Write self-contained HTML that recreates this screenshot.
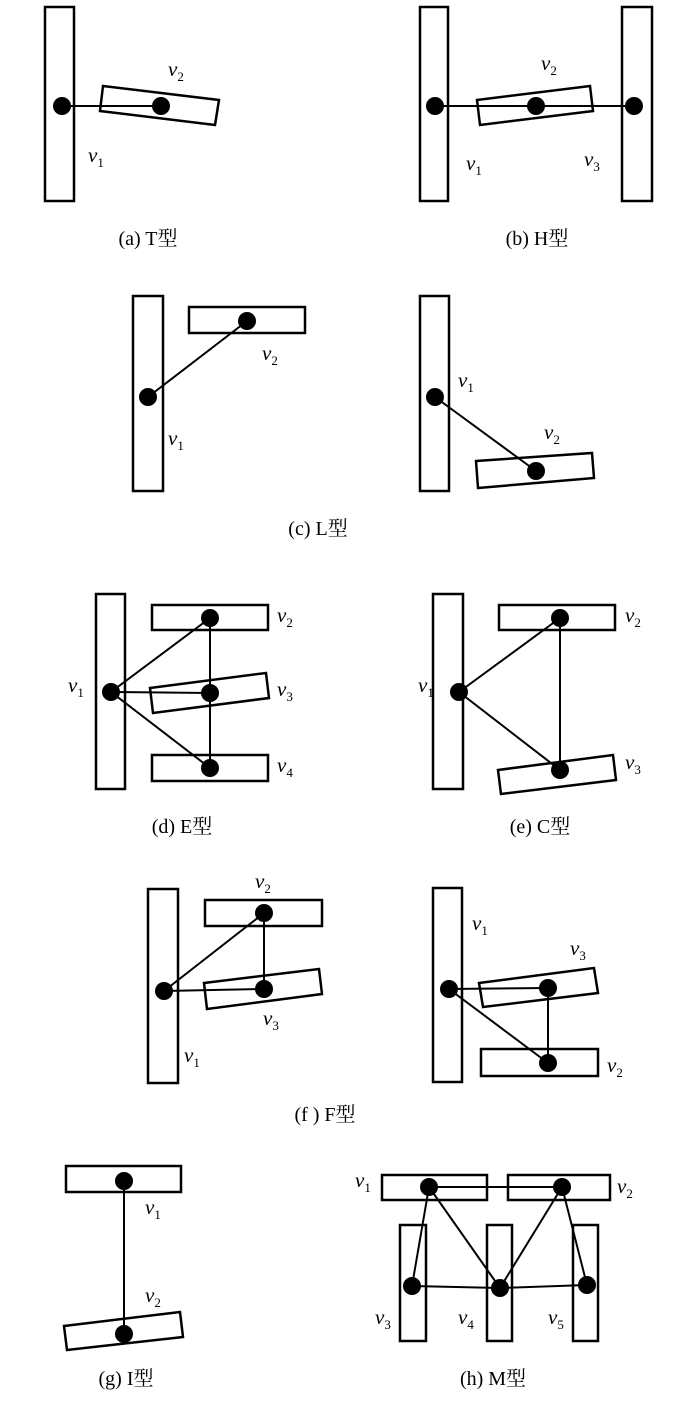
<!DOCTYPE html>
<html><head><meta charset="utf-8"><style>
html,body{margin:0;padding:0;background:#fff;}
svg{display:block;}
text{font-family:"Liberation Serif","Noto Serif CJK SC",serif;fill:#000;}
.v{font-style:italic;font-size:21px;}
.s{font-style:normal;font-size:13px;}
.c{font-size:20px;text-anchor:middle;}
</style></head><body>
<svg width="700" height="1404" viewBox="0 0 700 1404" xmlns="http://www.w3.org/2000/svg">
<defs>
<g id="d"><circle r="9" fill="#000"/></g>
</defs>
<g fill="none" stroke="#000" stroke-width="2.5">
<rect x="45" y="7" width="29" height="194"/>
<polygon points="103,86 219,100 215,125 100,111"/>
<rect x="420" y="7" width="28" height="194"/>
<rect x="622" y="7" width="30" height="194"/>
<polygon points="477,100 590,86 593,111 480,125"/>
<rect x="133" y="296" width="30" height="195"/>
<rect x="189" y="307" width="116" height="26"/>
<rect x="420" y="296" width="29" height="195"/>
<polygon points="476,461 592,453 594,478 478,488"/>
<rect x="96" y="594" width="29" height="195"/>
<rect x="152" y="605" width="116" height="25"/>
<polygon points="150,688 266,673 269,698 153,713"/>
<rect x="152" y="755" width="116" height="26"/>
<rect x="433" y="594" width="30" height="195"/>
<rect x="499" y="605" width="116" height="25"/>
<polygon points="498,770 613,755 616,780 501,794"/>
<!-- f -->
<rect x="148" y="889" width="30" height="194"/>
<rect x="205" y="900" width="117" height="26"/>
<polygon points="204,983 319,969 322,994 207,1009"/>
<rect x="433" y="888" width="29" height="194"/>
<polygon points="479,983 594,968 598,993 483,1007"/>
<rect x="481" y="1049" width="117" height="27"/>
<rect x="66" y="1166" width="115" height="26"/>
<polygon points="64,1326 180,1312 183,1337 67,1350"/>
<rect x="382" y="1175" width="105" height="25"/>
<rect x="508" y="1175" width="102" height="25"/>
<rect x="400" y="1225" width="26" height="116"/>
<rect x="487" y="1225" width="25" height="116"/>
<rect x="573" y="1225" width="25" height="116"/>
</g>
<g stroke="#000" stroke-width="2" fill="none">
<line x1="62" y1="106" x2="161" y2="106"/>
<line x1="435" y1="106" x2="634" y2="106"/>
<line x1="148" y1="397" x2="247" y2="321"/>
<line x1="435" y1="397" x2="536" y2="471"/>
<line x1="111" y1="692" x2="210" y2="618"/>
<line x1="111" y1="692" x2="210" y2="693"/>
<line x1="111" y1="692" x2="210" y2="768"/>
<line x1="210" y1="618" x2="210" y2="768"/>
<line x1="459" y1="692" x2="560" y2="618"/>
<line x1="459" y1="692" x2="560" y2="770"/>
<line x1="560" y1="618" x2="560" y2="770"/>
<line x1="164" y1="991" x2="264" y2="913"/>
<line x1="164" y1="991" x2="264" y2="989"/>
<line x1="264" y1="913" x2="264" y2="989"/>
<line x1="449" y1="989" x2="548" y2="988"/>
<line x1="449" y1="989" x2="548" y2="1063"/>
<line x1="548" y1="988" x2="548" y2="1063"/>
<line x1="124" y1="1181" x2="124" y2="1334"/>
<line x1="429" y1="1187" x2="562" y2="1187"/>
<line x1="429" y1="1187" x2="412" y2="1286"/>
<line x1="429" y1="1187" x2="500" y2="1288"/>
<line x1="562" y1="1187" x2="500" y2="1288"/>
<line x1="562" y1="1187" x2="587" y2="1285"/>
<line x1="412" y1="1286" x2="500" y2="1288"/>
<line x1="500" y1="1288" x2="587" y2="1285"/>
</g>
<g>
<use href="#d" x="62" y="106"/><use href="#d" x="161" y="106"/>
<use href="#d" x="435" y="106"/><use href="#d" x="536" y="106"/><use href="#d" x="634" y="106"/>
<use href="#d" x="148" y="397"/><use href="#d" x="247" y="321"/>
<use href="#d" x="435" y="397"/><use href="#d" x="536" y="471"/>
<use href="#d" x="111" y="692"/><use href="#d" x="210" y="618"/><use href="#d" x="210" y="693"/><use href="#d" x="210" y="768"/>
<use href="#d" x="459" y="692"/><use href="#d" x="560" y="618"/><use href="#d" x="560" y="770"/>
<use href="#d" x="164" y="991"/><use href="#d" x="264" y="913"/><use href="#d" x="264" y="989"/>
<use href="#d" x="449" y="989"/><use href="#d" x="548" y="988"/><use href="#d" x="548" y="1063"/>
<use href="#d" x="124" y="1181"/><use href="#d" x="124" y="1334"/>
<use href="#d" x="429" y="1187"/><use href="#d" x="562" y="1187"/><use href="#d" x="412" y="1286"/><use href="#d" x="500" y="1288"/><use href="#d" x="587" y="1285"/>
</g>
<g>
<text class="v" x="168" y="76">v<tspan class="s" dy="5">2</tspan></text>
<text class="v" x="88" y="162">v<tspan class="s" dy="5">1</tspan></text>
<text class="v" x="541" y="70">v<tspan class="s" dy="5">2</tspan></text>
<text class="v" x="466" y="170">v<tspan class="s" dy="5">1</tspan></text>
<text class="v" x="584" y="166">v<tspan class="s" dy="5">3</tspan></text>
<text class="v" x="262" y="360">v<tspan class="s" dy="5">2</tspan></text>
<text class="v" x="168" y="445">v<tspan class="s" dy="5">1</tspan></text>
<text class="v" x="458" y="387">v<tspan class="s" dy="5">1</tspan></text>
<text class="v" x="544" y="439">v<tspan class="s" dy="5">2</tspan></text>
<text class="v" x="277" y="622">v<tspan class="s" dy="5">2</tspan></text>
<text class="v" x="277" y="696">v<tspan class="s" dy="5">3</tspan></text>
<text class="v" x="277" y="772">v<tspan class="s" dy="5">4</tspan></text>
<text class="v" x="68" y="692">v<tspan class="s" dy="5">1</tspan></text>
<text class="v" x="625" y="622">v<tspan class="s" dy="5">2</tspan></text>
<text class="v" x="625" y="769">v<tspan class="s" dy="5">3</tspan></text>
<text class="v" x="418" y="692">v<tspan class="s" dy="5">1</tspan></text>
<text class="v" x="255" y="888">v<tspan class="s" dy="5">2</tspan></text>
<text class="v" x="263" y="1025">v<tspan class="s" dy="5">3</tspan></text>
<text class="v" x="184" y="1062">v<tspan class="s" dy="5">1</tspan></text>
<text class="v" x="472" y="930">v<tspan class="s" dy="5">1</tspan></text>
<text class="v" x="570" y="955">v<tspan class="s" dy="5">3</tspan></text>
<text class="v" x="607" y="1072">v<tspan class="s" dy="5">2</tspan></text>
<text class="v" x="145" y="1214">v<tspan class="s" dy="5">1</tspan></text>
<text class="v" x="145" y="1302">v<tspan class="s" dy="5">2</tspan></text>
<text class="v" x="355" y="1187">v<tspan class="s" dy="5">1</tspan></text>
<text class="v" x="617" y="1193">v<tspan class="s" dy="5">2</tspan></text>
<text class="v" x="375" y="1324">v<tspan class="s" dy="5">3</tspan></text>
<text class="v" x="458" y="1324">v<tspan class="s" dy="5">4</tspan></text>
<text class="v" x="548" y="1324">v<tspan class="s" dy="5">5</tspan></text>
<text class="c" x="148" y="245">(a) T型</text>
<text class="c" x="537" y="245">(b) H型</text>
<text class="c" x="318" y="535">(c) L型</text>
<text class="c" x="182" y="833">(d) E型</text>
<text class="c" x="540" y="833">(e) C型</text>
<text class="c" x="325" y="1121">(f ) F型</text>
<text class="c" x="126" y="1385">(g) I型</text>
<text class="c" x="493" y="1385">(h) M型</text>
</g>
</svg>
</body></html>
